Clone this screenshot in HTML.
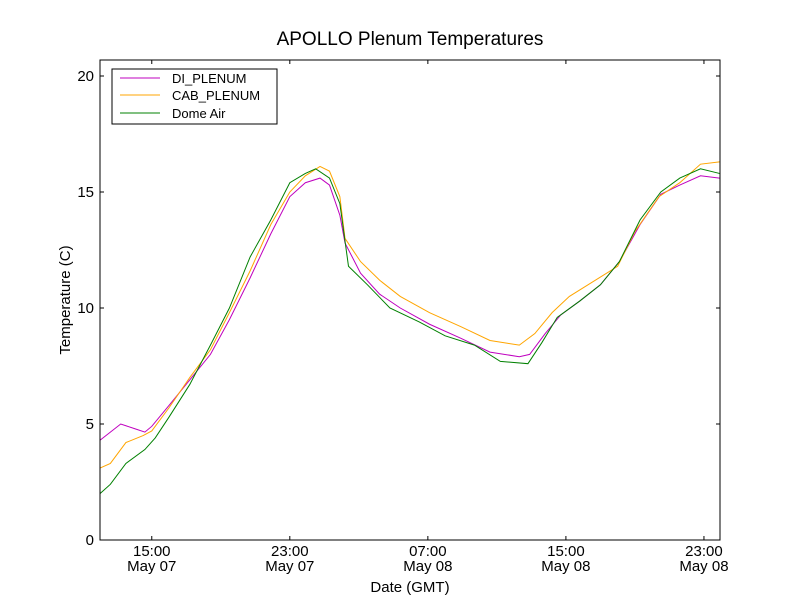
<!DOCTYPE html>
<html><head><meta charset="utf-8"><style>
body{margin:0;background:#fff;font-family:"Liberation Sans",sans-serif}
</style></head><body>
<svg id="chart" width="800" height="600" xmlns="http://www.w3.org/2000/svg" font-family="Liberation Sans, sans-serif">
<rect width="800" height="600" fill="#fff"/>
<text x="410" y="45" text-anchor="middle" font-size="19">APOLLO Plenum Temperatures</text>
<g id="plot"></g>
<text x="410" y="592" text-anchor="middle" font-size="15">Date (GMT)</text>
<text transform="translate(70,300) rotate(-90)" text-anchor="middle" font-size="15">Temperature (C)</text>
</svg>
<script>
const diT=[0,1.2,2,2.6,3,4,5.2,6.4,7.5,8.7,9.9,11,11.9,12.75,13.3,13.9,14.2,15.1,16.2,17.4,19.1,20.9,22.6,24.3,24.9,25.8,26.7,27.8,29,30.1,31.3,32.5,33.6,34.8,35.9];
const diV=[4.3,5.0,4.8,4.65,4.9,5.8,6.9,8.0,9.5,11.3,13.2,14.8,15.4,15.6,15.3,14.0,12.8,11.5,10.6,10.0,9.3,8.7,8.1,7.9,8.0,8.9,9.7,10.3,11.0,12.0,13.6,14.9,15.3,15.7,15.6];
const cabT=[0,0.6,1.5,2.5,3,4,5.2,6.4,7.5,8.7,9.9,11,11.9,12.75,13.3,13.9,14.2,15.1,16.2,17.4,19.1,20.9,22.6,24.3,25.2,26.2,27.2,28.5,30,31,32.4,33.6,34.8,35.9];
const cabV=[3.1,3.3,4.2,4.5,4.7,5.7,7.0,8.2,9.8,11.6,13.6,15.0,15.7,16.1,15.9,14.8,13.0,12.0,11.2,10.5,9.8,9.2,8.6,8.4,8.9,9.8,10.5,11.1,11.8,13.3,14.8,15.4,16.2,16.3];
const domeT=[0,0.6,1.5,2.6,3.2,4,5.2,6.4,7.5,8.7,9.9,11,11.9,12.5,13.3,13.9,14.4,15.5,16.8,18.5,20,21.7,23.2,24.8,25.6,26.5,27.8,29,30.1,31.3,32.5,33.6,34.8,35.9];
const domeV=[2.0,2.4,3.3,3.9,4.4,5.3,6.7,8.4,10.0,12.2,13.8,15.4,15.8,16.0,15.6,14.5,11.8,11.0,10.0,9.4,8.8,8.4,7.7,7.6,8.5,9.6,10.3,11.0,12.0,13.8,15.0,15.6,16.0,15.8];
const yTicks=[0,5,10,15,20];
const xTickHours=[3,11,19,27,35];
const xTickTimes=["15:00","23:00","07:00","15:00","23:00"];
const xTickDays=["May 07","May 07","May 08","May 08","May 08"];

const L=100,R=720,T=60,B=540,TMAX=35.93,YMAX=20.69;
const sx=t=>L+t/TMAX*(R-L), sy=v=>B-v/YMAX*(B-T);
const NS="http://www.w3.org/2000/svg", g=document.getElementById('plot');
function mk(tag,attrs){const e=document.createElementNS(NS,tag);for(const k in attrs)e.setAttribute(k,attrs[k]);g.appendChild(e);return e;}
function series(ts,vs,color,name){
  const p=mk('polyline',{points:ts.map((t,i)=>sx(t)+','+sy(vs[i])).join(' '),fill:'none',stroke:color,'stroke-width':1});
  
  
}
series(diT,diV,'#bf00bf','di-plenum-line');
series(cabT,cabV,'orange','cab-plenum-line');
series(domeT,domeV,'green','dome-air-line');
const frame=mk('rect',{x:L,y:T,width:R-L,height:B-T,fill:'none',stroke:'#000'});


yTicks.forEach(v=>{
  const y=sy(v);
  mk('line',{x1:L,x2:L+4,y1:y,y2:y,stroke:'#000'});
  mk('line',{x1:R-4,x2:R,y1:y,y2:y,stroke:'#000'});
  const t=mk('text',{x:L-6,y:y+5,'text-anchor':'end','font-size':15});
  t.textContent=v;
  
  
});
xTickHours.forEach((h,i)=>{
  const x=sx(h);
  mk('line',{x1:x,x2:x,y1:B,y2:B-4,stroke:'#000'});
  mk('line',{x1:x,x2:x,y1:T,y2:T+4,stroke:'#000'});
  const a=mk('text',{x:x,y:556,'text-anchor':'middle','font-size':15});a.textContent=xTickTimes[i];
  
  
  const b=mk('text',{x:x,y:571,'text-anchor':'middle','font-size':15});b.textContent=xTickDays[i];
  
  
});
const lg=mk('rect',{x:112,y:69,width:165,height:55,fill:'#fff',stroke:'#000'});


[['DI_PLENUM','#bf00bf',78],['CAB_PLENUM','orange',95],['Dome Air','green',113]].forEach(([n,c,y])=>{
  mk('line',{x1:120,x2:160,y1:y,y2:y,stroke:c});
  const t=mk('text',{x:172,y:y+5,'font-size':13});t.textContent=n;
  
  
});
</script>
</body></html>
